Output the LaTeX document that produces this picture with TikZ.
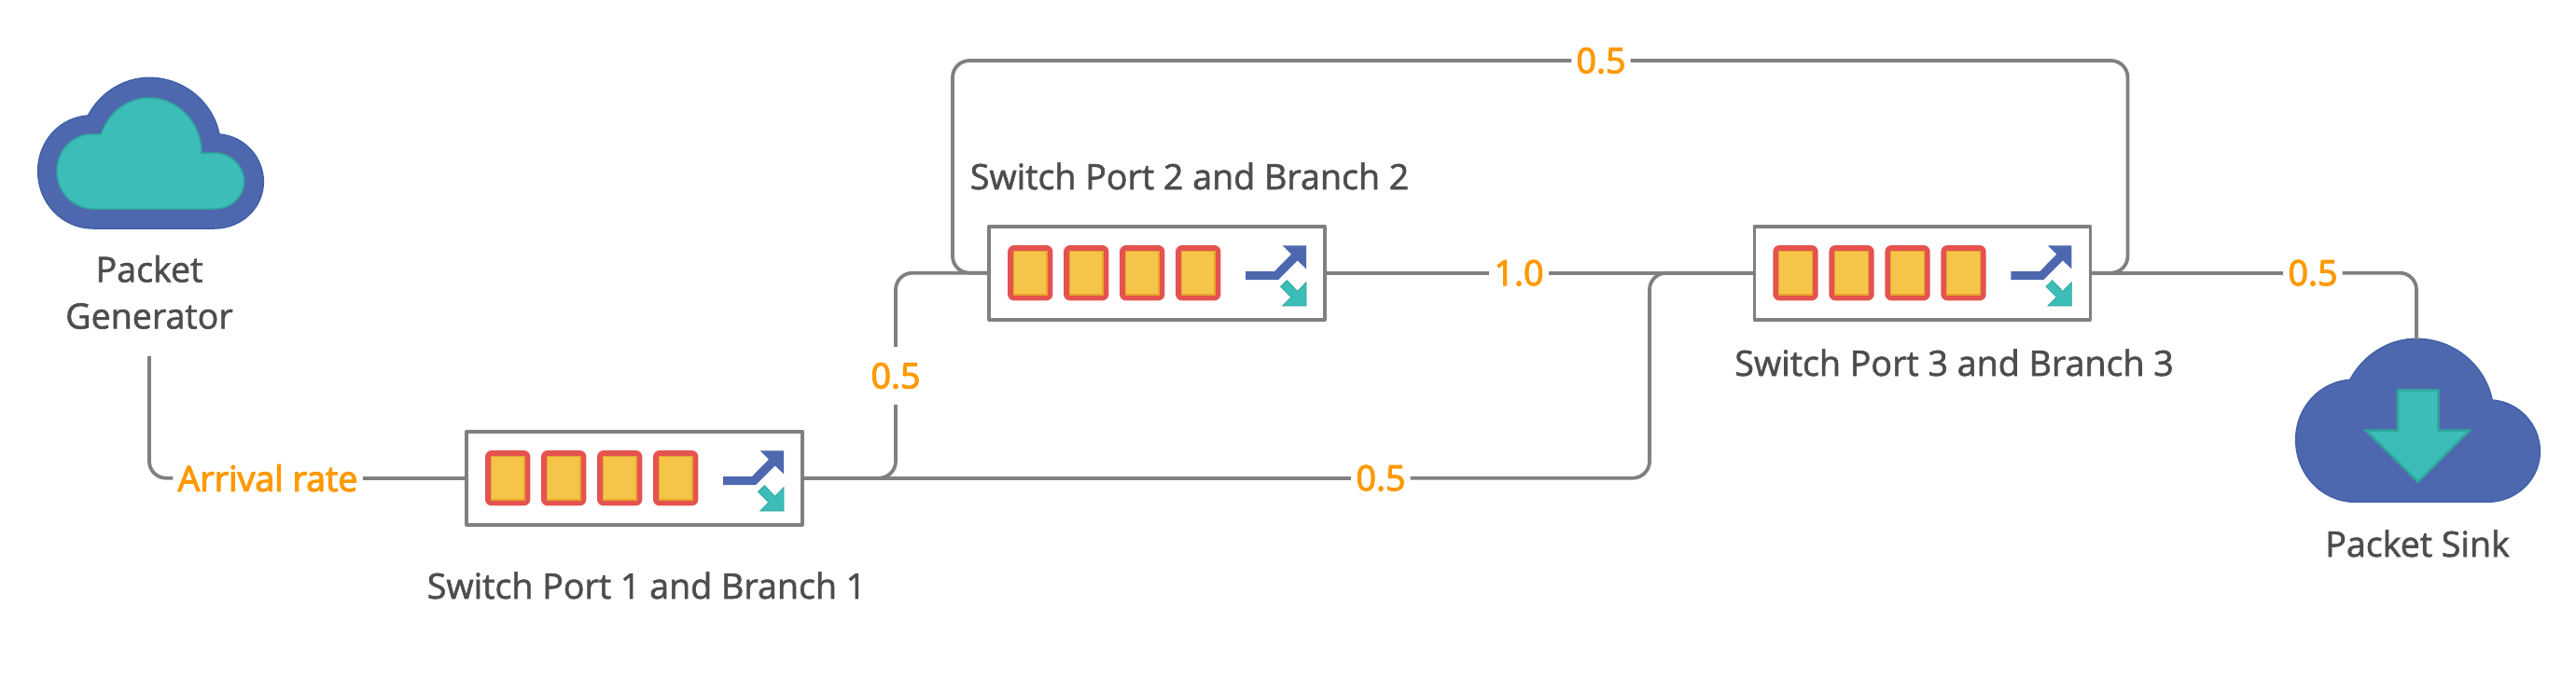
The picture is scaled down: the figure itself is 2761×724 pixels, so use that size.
\documentclass[tikz,border=0pt]{standalone}
\usepackage{fontspec}
\setmainfont{Open Sans}
\newfontfamily\capfont{Open Sans}[FakeBold=1.6]
\newfontfamily\flowfont{Open Sans}[FakeBold=3]
\definecolor{linegray}{HTML}{808080}
\definecolor{textgray}{HTML}{4D4D4D}
\definecolor{flow}{HTML}{FF9900}
\definecolor{cblue}{HTML}{4E68B0}
\definecolor{cblueedge}{HTML}{4060A8}
\definecolor{cteal}{HTML}{3DBDB8}
\definecolor{ctealedge}{HTML}{2FA79C}
\definecolor{cred}{HTML}{E55350}
\definecolor{cyellow}{HTML}{F4C548}
\definecolor{cyellowedge}{HTML}{E8A72C}
\newcommand{\cloudouter}{(300,495) -- (690,495) .. controls (777,495) and (847,428) .. (847,345) .. controls (847,265) and (785,198) .. (705,192) .. controls (685,90) and (592,10) .. (480,10) .. controls (398,10) and (322,58) .. (283,132) .. controls (192,138) and (122,215) .. (122,310) .. controls (122,413) and (200,495) .. (300,495) -- cycle}
\tikzset{
  switchbox/.style={draw=linegray,line width=3.6pt,fill=white,rectangle,line join=round,minimum width=360pt,minimum height=100pt,inner sep=0pt},
  conn/.style={draw=linegray,line width=3.8pt,rounded corners=18pt},
  caption/.style={text=textgray,font=\capfont\fontsize{37.6}{50}\selectfont,inner sep=0pt,anchor=base},
  flowlabel/.style={text=flow,font=\flowfont\fontsize{37.6}{44}\selectfont,inner xsep=5pt,inner ysep=17pt},
  cloudbody/.style={fill=cblue,draw=cblueedge,line width=1.5pt},
  tealbody/.style={fill=cteal,draw=ctealedge,line width=1.5pt,line join=miter},
  slotcell/.pic={
    \fill[cred,rounded corners=7pt] (-24.2,-29.7) rectangle (24.2,29.7);
    \draw[fill=cyellow,draw=cyellowedge,line width=1.2pt] (-17.7,-23.2) rectangle (17.7,23.2);
  },
  switchmarks/.pic={
    \pic at (-135.8,0) {slotcell};
    \pic at (-75.8,0) {slotcell};
    \pic at (-15.8,0) {slotcell};
    \pic at (44.2,0) {slotcell};
    \begin{scope}[scale=0.33333]
      \fill[cblue] (285,-5) -- (378,-5) -- (432,-60) -- (404,-88) -- (480,-88) -- (480,-13) -- (452,-40) -- (390,22) -- (285,22) -- cycle;
      \draw[fill=cteal,draw=ctealedge,line width=0.8pt] (418,24) -- (452,59) -- (480,30) -- (480,106) -- (404,106) -- (432,78) -- (398,44) -- cycle;
    \end{scope}
  }
}
\begin{document}
\begin{tikzpicture}[x=1pt,y=-1pt]
\useasboundingbox (0,0) rectangle (2761,724);
% clouds
\begin{scope}[shift={(0,80)},scale=0.33333]
  \path[cloudbody] \cloudouter;
  \path[tealbody] (300,432) -- (690,432) .. controls (742,432) and (785,393) .. (785,345) .. controls (785,295) and (742,252) .. (690,252) -- (648,252) .. controls (648,155) and (572,75) .. (480,75) .. controls (410,75) and (350,120) .. (325,192) -- (295,192) .. controls (232,192) and (183,245) .. (183,312) .. controls (183,378) and (235,432) .. (300,432) -- cycle;
\end{scope}
\begin{scope}[shift={(2416.6,359.7)},scale=0.361]
  \path[cloudbody] \cloudouter;
\end{scope}
\begin{scope}[shift={(2400,260)},scale=0.33333]
  \path[tealbody,line width=2.6pt] (510,475) -- (640,475) -- (640,605) -- (740,605) -- (575,770) -- (408,605) -- (510,605) -- cycle;
\end{scope}
% switch boxes
\node[switchbox] (box1) at (680,512.7) {};
\node[switchbox] (box2) at (1240,292.7) {};
\node[switchbox] (box3) at (2060.3,292.7) {};
\pic at (box1.center) {switchmarks};
\pic at (box2.center) {switchmarks};
\pic at (box3.center) {switchmarks};
% captions
\node[caption,anchor=south,align=center,inner ysep=29pt] (genlab) at (160,382) {Packet\\Generator};
\node[caption] (cap1) at (693,642) {Switch Port 1 and Branch 1};
\node[caption] (cap2) at (1275,203) {Switch Port 2 and Branch 2};
\node[caption] (cap3) at (2094.5,403) {Switch Port 3 and Branch 3};
\node[caption] (sinklab) at (2591,597) {Packet Sink};
% flow labels
\node[flowlabel] (arr) at (287,512.7) {Arrival rate};
\node[flowlabel] (lab12) at (960,403) {0.5};
\node[flowlabel] (lab13) at (1480,512.7) {0.5};
\node[flowlabel] (lab23) at (1628,292.7) {1.0};
\node[flowlabel] (labtop) at (1716,65) {0.5};
\node[flowlabel] (labsink) at (2479,292.7) {0.5};
% free corners
\coordinate (looptl) at (1021,65);
\coordinate (looptr) at (2280.5,65);
\coordinate (jn3) at (1768,292.7);
\coordinate (sinktop) at (2590,364);
% connectors
\draw[conn] (genlab.south) |- (arr.west);
\draw[conn] (arr.east) -- (box1.west);
\draw[conn] (box1.east) -| (lab12.south);
\draw[conn] (lab12.north) |- (box2.west);
\draw[conn] (box1.east) -- (lab13.west);
\draw[conn] (lab13.east) -| (jn3) -- (box3.west);
\draw[conn] (box2.east) -- (lab23.west);
\draw[conn] (lab23.east) -- (box3.west);
\draw[conn] (box2.west) -| (looptl) -- (labtop.west);
\draw[conn] (labtop.east) -- (looptr) |- (box3.east);
\draw[conn] (box3.east) -- (labsink.west);
\draw[conn] (labsink.east) -| (sinktop);
\end{tikzpicture}
\end{document}
